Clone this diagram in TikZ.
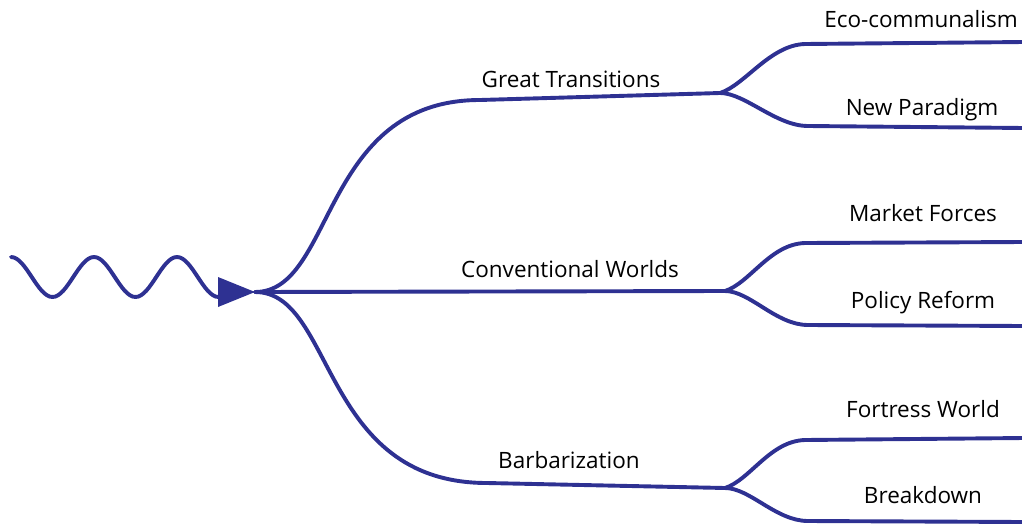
\documentclass[tikz,border=0pt]{standalone}
\usepackage{fontspec}
\setmainfont{Open Sans}
\usepackage{tikz}
\usetikzlibrary{calc}
\definecolor{pathblue}{RGB}{46,49,146}

\begin{document}
\begin{tikzpicture}[x=1pt,y=-1pt,
    every node/.style={font=\fontsize{22.5}{27}\selectfont,inner sep=0pt,anchor=base},
    branch/.style={draw=pathblue,line width=3.9pt,line cap=round,line join=round}]

        \useasboundingbox (0,0) rectangle (1022,525);

        % stem and fork points
        \coordinate (wave)  at (11,257);
        \coordinate (root)  at (255,292);
        \coordinate (gtA)   at (480,100);
        \coordinate (gtF)   at (720,93);
        \coordinate (cwF)   at (725,291);
        \coordinate (baA)   at (487,483);
        \coordinate (baF)   at (725,488);

        % scenario ends
        \coordinate (ecoA)  at (805,44);   \coordinate (ecoB)  at (1024,42);
        \coordinate (npA)   at (808,126);  \coordinate (npB)   at (1024,128);
        \coordinate (mfA)   at (805,243);  \coordinate (mfB)   at (1024,242);
        \coordinate (prA)   at (808,325);  \coordinate (prB)   at (1024,326);
        \coordinate (fwA)   at (805,440);  \coordinate (fwB)   at (1024,438);
        \coordinate (bdA)   at (808,521);  \coordinate (bdB)   at (1024,522);

        \draw[branch] (wave) cos (31.75,277) sin (52.5,297) cos (73.25,277) sin (94,257)
                      cos (114.75,277) sin (135.5,297) cos (156.25,277) sin (177,257)
                      cos (197.75,277) sin (218.5,297);
        \fill[pathblue] (218,277) -- (root) -- (218,307) -- cycle;

        \draw[branch] (root) .. controls (335,292) and (320,100) .. (gtA) -- (gtF);
        \draw[branch] (root) -- (cwF);
        \draw[branch] (root) .. controls (335,292) and (320,483) .. (baA) -- (baF);

        \draw[branch] (gtF) .. controls ($(gtF)+(25,-8)$) and ($(ecoA)+(-35,1)$) .. (ecoA) -- (ecoB);
        \draw[branch] (gtF) .. controls ($(gtF)+(25,0)$) and ($(npA)+(-32,0)$) .. (npA) -- (npB);
        \draw[branch] (cwF) .. controls ($(cwF)+(25,-8)$) and ($(mfA)+(-35,1)$) .. (mfA) -- (mfB);
        \draw[branch] (cwF) .. controls ($(cwF)+(25,0)$) and ($(prA)+(-32,0)$) .. (prA) -- (prB);
        \draw[branch] (baF) .. controls ($(baF)+(25,-8)$) and ($(fwA)+(-35,1)$) .. (fwA) -- (fwB);
        \draw[branch] (baF) .. controls ($(baF)+(25,0)$) and ($(bdA)+(-32,0)$) .. (bdA) -- (bdB);

        \node (gt)  at (571,87)  {Great Transitions};
        \node (cw)  at (570,277) {Conventional Worlds};
        \node (ba)  at (569,468) {Barbarization};

        \node (eco) at (921,27)  {Eco-communalism};
        \node (np)  at (922,115) {New Paradigm};
        \node (mf)  at (923,221) {Market Forces};
        \node (pr)  at (923,308) {Policy Reform};
        \node (fw)  at (923,417) {Fortress World};
        \node (bd)  at (923,503) {Breakdown};
      \end{tikzpicture}
\end{document}
